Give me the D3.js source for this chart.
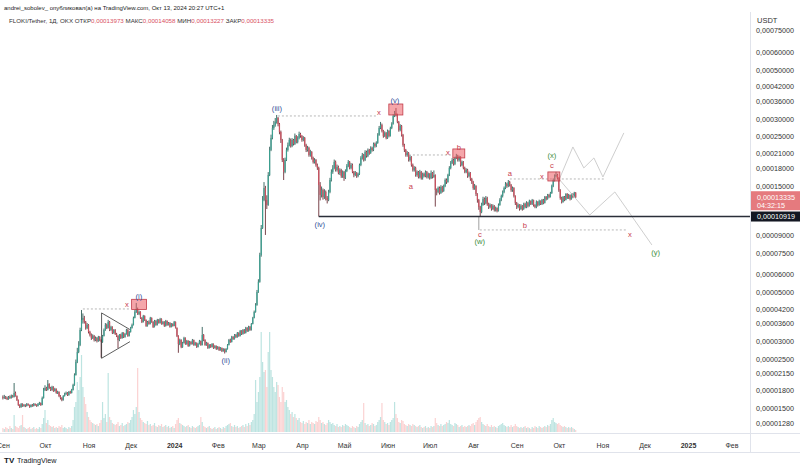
<!DOCTYPE html>
<html><head><meta charset="utf-8">
<script src="https://cdn.jsdelivr.net/npm/d3@7"></script>
<style>body{margin:0;background:#fff}svg{display:block;font-family:"Liberation Sans",Arial,sans-serif}</style>
</head><body><svg id="c" width="800" height="467"></svg>
<script>
// ---------- DATA (prices in 1e-8 USDT) ----------
const startDate = "2023-09-01";
const firstOpenE8 = 1680;
const closeE8 = [
1665,1682,1665,1647,1682,1665,1700,1682,1754,1700,
1630,1548,1517,1564,1533,1548,1533,1564,1548,1517,
1548,1533,1564,1548,1533,1564,1581,1548,1665,1809,
1847,1809,1925,1847,1809,1867,1791,1828,1754,1772,
1700,1665,1630,1700,1735,1754,1717,1772,1754,1809,
1905,2113,2419,2683,2884,3370,3738,3817,3662,3442,
3549,3302,3199,3102,3167,3037,3102,3006,3134,3037,
2976,3167,3370,3549,3442,3662,3370,3477,3267,3370,
3233,3167,3037,3199,3102,3267,3134,3233,3370,3167,
3302,3442,3549,3817,4061,4189,3978,4061,3817,3662,
3896,3738,3513,3662,3587,3817,3662,3477,3700,3549,
3738,3625,3778,3587,3662,3513,3700,3549,3625,3477,
3587,3513,3662,3442,3167,2915,3037,2826,2945,3102,
2915,3006,2855,2976,2915,3037,2884,2945,2826,2915,
3006,2884,3199,3037,2884,2945,2796,2884,2826,2915,
2796,2855,2767,2826,2738,2796,2710,2767,2683,2767,
2884,3037,2976,3134,3069,3199,3134,3267,3167,3336,
3233,3370,3267,3442,3336,3477,3370,3587,3817,4061,
4365,4994,5550,7330,9690,12960,14678,12960,12310,16790,
21760,24646,27338,28190,29090,30322,28490,26230,24130,19620,
17330,19620,21760,22910,24130,22680,24130,23154,25162,23642,
24646,25690,25162,24130,24646,22910,21760,22220,20660,21320,
20036,19224,19620,18630,18066,15140,13650,14370,13374,14082,
13236,12960,14082,15940,17330,18066,19224,17690,18254,17150,
17690,16620,17330,16280,17510,18442,19224,18066,18630,17330,
16790,17150,16620,16970,18630,20036,20660,19620,21320,20452,
21760,21100,22220,21760,23154,22680,23398,25420,27338,28190,
26500,25162,25960,24646,26500,25162,27338,28490,30954,31934,
31270,29090,26770,27906,25420,22910,21760,20660,21100,19620,
20244,18630,17690,18066,16790,17330,16450,17330,16280,16970,
16620,17330,16450,16970,16280,17150,16450,16790,14370,14082,
14678,13938,14832,14226,14986,15940,15620,16790,18066,19026,
19620,18828,20036,20452,19620,20244,18630,19224,18066,17330,
17690,16620,17150,16110,15620,14678,14986,13794,12960,12058,
11444,12310,13098,12570,13236,12440,12058,12310,11806,12184,
11680,11932,11562,12310,12960,13512,14082,14678,15300,14986,
15620,15140,14370,14678,13512,12570,12058,12310,11806,12184,
11806,12440,12058,12570,12184,12830,12440,12960,12310,12058,
12700,12310,12830,12440,12960,12570,13374,13098,13650,13374,
13938,14986,15940,16620,16790,16280,14370,13236,12700,13374,
12960,13794,13236,13650,13098,13794,13374,13973,13335];
const highE8 = [
1710,1720,1700,1690,1700,1710,1725,1720,1945,1780,
1710,1640,1560,1580,1575,1565,1560,1580,1575,1555,
1560,1565,1580,1575,1560,1580,1600,1590,1690,1850,
1900,1870,2006,1940,1870,1890,1880,1850,1840,1795,
1785,1715,1680,1715,1760,1780,1770,1790,1795,1830,
1930,2150,2480,2800,3000,3450,4145,4000,3900,3700,
3620,3580,3340,3250,3220,3200,3150,3130,3170,3160,
3060,3200,3420,3620,3600,3740,3700,3520,3500,3400,
3400,3270,3190,3230,3240,3300,3290,3260,3410,3400,
3340,3480,3600,3870,4140,4459,4250,4120,4090,3850,
3940,3920,3760,3700,3720,3860,3840,3690,3740,3730,
3780,3770,3820,3800,3700,3690,3740,3720,3660,3650,
3620,3610,3700,3680,3460,3190,3080,3060,2980,3140,
3120,3040,3030,3010,3000,3070,3050,2980,2960,2950,
3040,3020,3477,3230,3060,2980,2960,2910,2910,2940,
2930,2880,2870,2850,2840,2820,2810,2790,2780,2790,
2910,3070,3080,3170,3160,3230,3230,3300,3290,3370,
3360,3400,3400,3480,3470,3520,3510,3620,3860,4120,
4450,5100,5700,7500,10000,13500,15600,15000,13600,17300,
22500,25500,28200,29400,30300,31270,30600,28800,26600,24400,
20000,20100,22300,23500,24700,24500,24600,24400,25800,25400,
25100,26300,26000,25400,25100,24900,23200,22700,22500,21800,
21500,20300,20000,19800,18900,18300,15600,14900,14600,14500,
14300,13500,14400,16300,17800,18600,19700,19500,18700,18500,
18000,17900,17600,17500,17800,18800,19600,19400,19000,18900,
17500,17500,17300,17200,18900,20400,21100,20900,21700,21600,
22100,22000,22600,22500,23500,23500,23800,25900,27900,29100,
28600,26800,26400,26200,26900,26700,27700,29000,31500,32600,
33630,31700,29400,28400,28200,25700,23200,22000,21500,21300,
20600,20400,18900,18400,18300,17600,17500,17700,17500,17200,
17200,17600,17500,17200,17100,17600,17300,17600,16900,14600,
14900,14900,15100,15000,15200,16200,16200,17000,18400,19400,
20000,19900,20300,20900,20700,20500,20400,19500,19400,18300,
18000,17900,17400,17300,16300,15800,15300,15100,13900,13100,
12200,12600,13400,13300,13500,13400,12600,12500,12400,12400,
12300,12100,12000,12500,13200,13700,14300,14900,15600,15500,
15940,15800,15300,14900,14800,13600,12700,12500,12400,12400,
12300,12600,12600,12800,12700,13000,12900,13100,13000,12400,
12900,12800,13000,12900,13100,13100,13500,13500,13800,13800,
14100,15200,16200,16900,17330,17000,16400,14500,13400,13500,
13500,13900,13900,13800,13700,13900,13900,14100,14058];
const lowE8 = [
1640,1650,1645,1630,1635,1650,1655,1670,1675,1690,
1615,1535,1500,1505,1520,1520,1515,1525,1535,1505,
1510,1520,1525,1535,1520,1525,1550,1535,1545,1655,
1790,1790,1800,1830,1790,1795,1775,1780,1740,1735,
1680,1640,1610,1620,1690,1720,1700,1705,1740,1745,
1800,1890,2100,2390,2650,2850,3330,3600,3600,3380,
3400,3250,3150,3040,3070,2990,3000,2960,2980,3000,
2530,2950,3150,3340,3400,3420,3330,3340,3230,3240,
3200,3130,2790,3000,3070,3080,3100,3110,3210,3140,
3150,3280,3420,3530,3800,4020,3940,3930,3780,3620,
3640,3700,3480,3490,3560,3570,3630,3440,3460,3520,
3530,3600,3600,3560,3560,3480,3490,3520,3530,3450,
3460,3490,3500,3420,3130,2660,2880,2790,2800,2930,
2890,2890,2830,2840,2890,2900,2860,2860,2800,2810,
2900,2860,2870,3000,2860,2860,2770,2780,2800,2810,
2770,2780,2740,2750,2710,2720,2680,2690,2640,2670,
2750,2870,2950,2960,3040,3050,3100,3110,3140,3150,
3200,3210,3240,3250,3300,3310,3340,3350,3570,3800,
4030,4330,4950,5500,7200,9600,12800,9020,11800,12200,
16600,21500,24300,26800,27700,28600,27800,25600,23400,19200,
15940,17100,19400,21400,22600,22300,22400,22800,22900,23300,
23300,24300,24700,23700,23800,22500,21300,21400,20300,20300,
19700,18900,18900,18300,17700,10919,12900,13300,13000,13100,
12900,12500,12800,13900,15700,17000,17800,17400,17400,16900,
16800,16300,16300,15800,16100,17300,18200,17800,17800,17100,
16400,16600,16300,16400,16800,18400,19700,19300,19400,20100,
20200,20700,20900,21400,21500,22300,22400,23200,25200,27000,
26100,24700,24900,24300,24400,24800,25000,27000,28300,30600,
30800,28700,26300,26400,25000,22500,21300,20300,20300,19300,
19300,18300,17400,17400,16500,16500,16200,16200,16000,16000,
16400,16400,16200,16200,16000,16100,16200,16300,12100,13600,
13900,13700,13800,14000,14100,14800,15300,15500,16600,17800,
18800,18500,18600,19800,19300,19300,18300,18400,17800,17100,
17100,16300,16400,15800,15300,14400,14400,13500,12600,11700,
10920,11300,12200,12300,12400,12200,11800,11900,11600,11700,
11500,11500,11400,11500,12200,12800,13300,13900,14500,14700,
14800,14900,14100,14100,13300,12300,11800,11900,11600,11700,
11600,11700,11900,11900,12000,12100,12300,12300,12100,11900,
11900,12100,12200,12300,12300,12400,12500,12900,13000,13200,
13300,13800,14800,15700,16400,16000,14100,13000,12500,12600,
12800,12900,13100,13100,12900,13000,13200,13300,13227];
// daily volume (relative units)
const volume = [
4,3,5,4,3,6,4,3,17,6, 5,4,6,7,17,5,4,3,4,5, 3,4,5,3,4,3,5,4,8,14,
22,9,12,7,6,5,6,4,5,4, 6,5,7,4,5,4,3,5,4,6, 12,25,30,50,42,55,77,45,35,28,
20,15,12,10,9,8,7,8,6,9, 12,30,14,18,10,59,15,12,9,8, 7,8,10,6,7,9,6,7,8,10,
9,12,15,22,18,25,64,20,14,12, 10,9,8,11,7,8,6,7,9,6, 5,7,6,8,5,6,7,5,6,4,
5,6,4,8,12,14,9,8,7,6, 5,6,7,5,4,6,5,4,5,6, 7,15,10,6,5,4,5,6,4,3,
4,5,3,4,5,4,3,5,4,6, 7,8,9,6,5,7,5,6,4,5, 6,7,5,8,6,9,7,10,12,18,
52,30,40,55,100,70,60,62,45,80, 100,62,55,45,40,50,47,35,30,45, 40,30,32,25,22,18,20,15,18,14,
12,14,10,9,11,8,10,9,12,8, 10,9,8,11,10,15,12,9,10,8, 7,9,12,10,8,9,7,6,8,5,
6,5,7,6,8,7,6,5,4,6, 5,4,6,5,8,10,12,29,9,7, 8,6,7,9,8,6,7,10,12,15,
29,12,10,8,9,7,10,12,14,30, 18,14,10,9,12,11,8,7,6,8, 7,6,8,7,6,5,6,7,5,4,
5,6,4,5,4,6,5,6,14,9, 7,6,8,6,7,8,10,9,12,8, 7,6,9,8,7,5,6,7,5,6,
5,6,7,6,8,9,7,10,12,14, 15,10,8,7,6,8,6,5,7,5, 6,5,4,6,7,8,9,7,6,5,
6,5,7,5,6,8,6,5,4,5, 4,5,6,4,5,4,3,5,4,6, 5,4,6,5,4,5,6,5,7,6,
8,12,14,10,9,8,9,7,6,5, 6,5,4,5,4,5,4,3,2];

const priceTicks = [0.00075,0.0006,0.0005,0.00042,0.00036,0.0003,0.00025,0.00021,0.00018,0.00015,
  0.00009,0.000075,0.00006,0.00005,0.000042,0.000036,0.00003,0.000025,0.0000215,0.000018,0.000015,0.0000128];
const monthTicks = ["2023-09-01","2023-10-01","2023-11-01","2023-12-01","2024-01-01","2024-02-01","2024-03-01","2024-04-01",
  "2024-05-01","2024-06-01","2024-07-01","2024-08-01","2024-09-01","2024-10-01","2024-11-01","2024-12-01","2025-01-01","2025-02-01"];
const monthLabels = ["Сен","Окт","Ноя","Дек","2024","Фев","Мар","Апр","Май","Июн","Июл","Авг","Сен","Окт","Ноя","Дек","2025","Фев"];

// drawings, in (day index since start, price 1e-8)
const dashedLines = [[57,91,4189],[195.9,267.1,30954],[289.2,319.8,20660],[339.7,445,9500],[361.1,428,16110]];
const blackLines = [[[70.3,4020],[90.5,3384]],[[70.3,2513],[90.5,2985]],[[70.3,4020],[70.3,2513]]];
const grayLines = [[[339,10919],[339,9500]]];
const boxes = [[91.7,102.3,4630,4170],[274.9,284.9,35040,31270],[320.5,329,21990,20036],[388.2,396.7,17330,15780]];
const projections = [
  [[396.7,16280],[406,22450],[413.8,18066],[421,20036],[427.4,16450],[442.3,25960]],
  [[396.7,15940],[418,11090],[435.9,14082],[462.3,8130]]];
const supportLevel = {day:225, price:10919};
const waveLabels = [
  ["(i)",96.9,4795,"b"],["x",88.3,4412,"r"],["(ii)",158.8,2469,"b"],["(iii)",195.2,33630,"b"],["x",267.8,32266,"r"],
  ["(v)",279.2,36530,"b"],["(iv)",225.8,10103,"b"],["a",290.6,14986,"r"],["x",317,21320,"r"],["b",324.8,22450,"r"],
  ["c",339.7,9110,"r"],["(w)",339.7,8400,"g"],["x",446.6,9110,"r"],["a",361.1,17150,"r"],["b",371.8,10000,"r"],
  ["x",383.9,16620,"r"],["c",391,18630,"r"],["(x)",391,20660,"g"],["(y)",465,7560,"g"]];
const lastPrice = 0.00013335, countdown = "04:32:15";

// ---------- RENDER ----------
const svg = d3.select("#c");
const W = 800, H = 467, plotRight = 750, plotTop = 12, plotBottom = 433;
const start = d3.utcParse("%Y-%m-%d")(startDate);
const dayToDate = d => new Date(start.getTime() + d*864e5);
const x = d3.scaleUtc().domain([Date.UTC(2023,9,1), Date.UTC(2025,0,1)]).range([45, 688]);
const y = d3.scaleLog().domain([1e-5, 1e-3]).range([447.2, 2.8]);
const vy = d3.scaleLinear().domain([0, 100]).range([432, 332]);
const E = v => v*1e-8;
const fmt = v => d3.format(".8f")(v).replace(".", ",");
const xd = d => x(dayToDate(d));
const yp = p => y(E(p));

svg.append("rect").attr("width",W).attr("height",H).attr("fill","#fff");
svg.append("defs").append("clipPath").attr("id","plot").append("rect")
  .attr("x",0).attr("y",plotTop).attr("width",plotRight).attr("height",plotBottom-plotTop);

const candles = closeE8.map((c,i)=>({
  date: dayToDate(i), open: E(i ? closeE8[i-1] : firstOpenE8), close: E(c),
  high: E(highE8[i]), low: E(lowE8[i]), vol: volume[i]}));
candles.forEach(d=>{ d.high=Math.max(d.high,d.open,d.close); d.low=Math.min(d.low,d.open,d.close); d.up = d.close>=d.open; });

const g = svg.append("g").attr("clip-path","url(#plot)");
// volume
g.append("g").selectAll("rect").data(candles).join("rect")
  .attr("x", d=>x(d.date)-0.6).attr("width",1.2)
  .attr("y", d=>vy(d.vol)).attr("height", d=>vy(0)-vy(d.vol))
  .attr("fill", d=>d.up ? "rgba(38,166,154,0.3)" : "rgba(239,83,80,0.26)");

// candles
const cg = g.append("g");
cg.selectAll("line").data(candles).join("line")
  .attr("x1", d=>x(d.date)).attr("x2", d=>x(d.date))
  .attr("y1", d=>y(d.high)).attr("y2", d=>y(d.low))
  .attr("stroke", d=>d.up ? "#2f5f58" : "#6b3038").attr("stroke-width",0.9);
cg.selectAll("rect").data(candles).join("rect")
  .attr("x", d=>x(d.date)-0.6).attr("width",1.2)
  .attr("y", d=>y(Math.max(d.open,d.close)))
  .attr("height", d=>Math.max(0.8, Math.abs(y(d.open)-y(d.close))))
  .attr("fill", d=>d.up ? "#3c9f90" : "#cc4f5e");

// drawings
const dg = g.append("g");
dashedLines.forEach(([d0,d1,p])=>{
  dg.append("line").attr("x1",xd(d0)).attr("x2",xd(d1)).attr("y1",yp(p)).attr("y2",yp(p))
    .attr("stroke","#9a9a9a").attr("stroke-width",0.7).attr("stroke-dasharray","2,2");
});
blackLines.forEach(l=>{
  dg.append("line").attr("x1",xd(l[0][0])).attr("y1",yp(l[0][1])).attr("x2",xd(l[1][0])).attr("y2",yp(l[1][1]))
    .attr("stroke","#333").attr("stroke-width",0.8);
});
grayLines.forEach(l=>{
  dg.append("line").attr("x1",xd(l[0][0])).attr("y1",yp(l[0][1])).attr("x2",xd(l[1][0])).attr("y2",yp(l[1][1]))
    .attr("stroke","#888").attr("stroke-width",0.8);
});
const line = d3.line().x(d=>xd(d[0])).y(d=>yp(d[1]));
projections.forEach(p=>{
  dg.append("path").attr("d",line(p)).attr("fill","none").attr("stroke","#c8c8c8").attr("stroke-width",0.9);
});
boxes.forEach(([d0,d1,p0,p1])=>{
  dg.append("rect").attr("x",xd(d0)).attr("width",xd(d1)-xd(d0)).attr("y",yp(p0)).attr("height",yp(p1)-yp(p0))
    .attr("fill","rgba(236,92,100,0.55)").attr("stroke","#c23b48").attr("stroke-width",0.8);
});
dg.append("line").attr("x1",xd(supportLevel.day)).attr("x2",plotRight)
  .attr("y1",yp(supportLevel.price)).attr("y2",yp(supportLevel.price))
  .attr("stroke","#2a2e39").attr("stroke-width",1.4);
const colors = {b:"#34529a", r:"#c8404f", g:"#3f8f3f"};
waveLabels.forEach(([t,d,p,c])=>{
  dg.append("text").attr("x",xd(d)).attr("y",yp(p)).attr("dy","0.35em").attr("text-anchor","middle")
    .attr("font-size",7.6).attr("fill",colors[c]).text(t);
});

// frame lines
svg.append("line").attr("x1",plotRight+0.5).attr("x2",plotRight+0.5).attr("y1",plotTop).attr("y2",452).attr("stroke","#e0e3eb");
svg.append("line").attr("x1",0).attr("x2",W).attr("y1",plotBottom+0.5).attr("y2",plotBottom+0.5).attr("stroke","#e0e3eb");
svg.append("line").attr("x1",0).attr("x2",W).attr("y1",452.5).attr("y2",452.5).attr("stroke","#e0e3eb");

// price axis
const ya = svg.append("g").attr("transform",`translate(${plotRight},0)`)
  .call(d3.axisRight(y).tickValues(priceTicks).tickFormat(fmt).tickSize(0).tickPadding(6));
ya.select(".domain").remove();
ya.selectAll("text").attr("font-size",7.2).attr("fill","#333").attr("font-family","Liberation Sans, Arial, sans-serif");
svg.append("text").attr("x",757).attr("y",23).attr("font-size",7.5).attr("fill","#333").text("USDT");

// last price label
const ly = y(lastPrice);
svg.append("rect").attr("x",plotRight+1).attr("y",ly-6).attr("width",W-plotRight-1).attr("height",19).attr("fill","#e57a7e");
svg.append("text").attr("x",757).attr("y",ly+2.5).attr("font-size",7.2).attr("fill","#fff").text(fmt(lastPrice));
svg.append("text").attr("x",757).attr("y",ly+10.5).attr("font-size",7.2).attr("fill","#fff").text(countdown);
// support label
const sy = yp(supportLevel.price);
svg.append("rect").attr("x",plotRight+1).attr("y",sy-5).attr("width",W-plotRight-1).attr("height",10).attr("fill","#131722");
svg.append("text").attr("x",757).attr("y",sy+2.6).attr("font-size",7.2).attr("fill","#fff").text(fmt(E(supportLevel.price)));

// time axis
const xa = svg.append("g").attr("transform",`translate(0,${plotBottom})`)
  .call(d3.axisBottom(x).tickValues(monthTicks.map(s=>d3.utcParse("%Y-%m-%d")(s))).tickFormat((d,i)=>monthLabels[i]).tickSize(0).tickPadding(10));
xa.select(".domain").remove();
xa.selectAll("text").attr("font-size",7).attr("fill","#333").attr("font-family","Liberation Sans, Arial, sans-serif")
  .attr("font-weight",(d,i)=>/^\d{4}$/.test(monthLabels[i])?"bold":"normal");

// header
svg.append("text").attr("x",4).attr("y",10).attr("font-size",6).attr("fill","#222")
  .text("andrei_sobolev_ опубликовал(а) на TradingView.com, Окт 13, 2024 20:27 UTC+1");
const h2 = svg.append("text").attr("x",9).attr("y",23).attr("font-size",6.2).attr("fill","#333");
const lastO = closeE8[closeE8.length-2], lastC = closeE8[closeE8.length-1];
const lastH = highE8[highE8.length-1], lastL = lowE8[lowE8.length-1];
h2.append("tspan").text("FLOKI/Tether, 1Д, OKX  ОТКР");
h2.append("tspan").attr("fill","#d9505f").text(fmt(E(lastO)));
h2.append("tspan").text("  МАКС");
h2.append("tspan").attr("fill","#d9505f").text(fmt(E(lastH)));
h2.append("tspan").text("  МИН");
h2.append("tspan").attr("fill","#d9505f").text(fmt(E(lastL)));
h2.append("tspan").text("  ЗАКР");
h2.append("tspan").attr("fill","#d9505f").text(fmt(E(lastC)));

// footer logo
svg.append("text").attr("x",4).attr("y",463).attr("font-size",8).attr("font-weight","bold").attr("fill","#131722").text("TV");
svg.append("text").attr("x",17).attr("y",463).attr("font-size",7.2).attr("fill","#131722").text("TradingView");
</script></body></html>
